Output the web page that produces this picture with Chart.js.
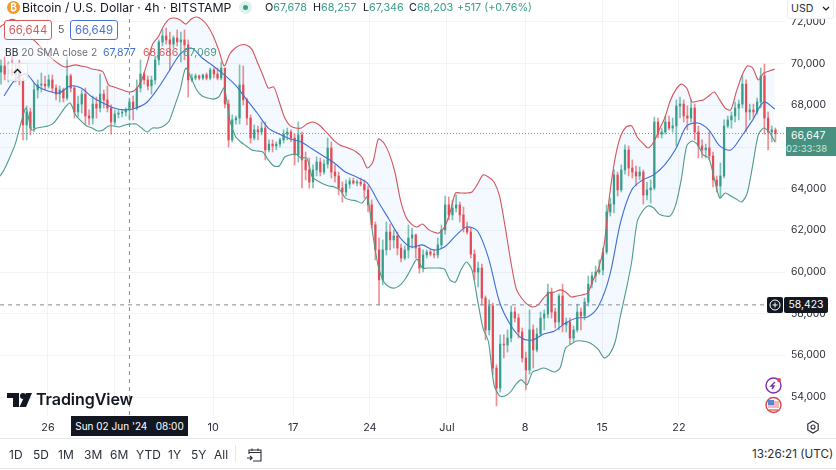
<!DOCTYPE html>
<html>
<head>
<meta charset="utf-8">
<title>Bitcoin / U.S. Dollar</title>
<script src="https://cdn.jsdelivr.net/npm/chart.js@4/dist/chart.umd.min.js"></script>
<style>
html, body { margin: 0; padding: 0; background: #fff; }
body { width: 836px; height: 470px; position: relative; overflow: hidden; font-family: Inter, "Noto Sans", sans-serif; color: #131722; }
#chart { position: absolute; left: 0; top: 0; filter: blur(0.35px); }
.abs { position: absolute; white-space: nowrap; }
.g { color: #3a9d8a; }
.tool { position: absolute; top: 447px; font-size: 12px; color: #2a2e39; }
</style>
</head>
<body>
<canvas id="chart" width="836" height="438"></canvas>

<!-- header -->
<div class="abs" style="left:7px;top:1px;width:13px;height:13px;border-radius:50%;background:#f09a2e;color:#fff;font-size:10px;font-weight:700;line-height:13px;text-align:center">₿</div>
<div class="abs" style="left:22px;top:-1px;font-size:12.3px;line-height:17px;background:rgba(255,255,255,.75)">Bitcoin / U.S. Dollar · 4h · BITSTAMP</div>
<div class="abs" style="left:239px;top:1px;width:13px;height:13px;border-radius:50%;background:#dff1ec"></div>
<div class="abs" style="left:243px;top:5px;width:5px;height:5px;border-radius:50%;background:#3a9d8a"></div>
<div class="abs" style="left:265px;top:0;font-size:10.8px;line-height:15px">O<span class="g">67,678</span></div>
<div class="abs" style="left:313px;top:0;font-size:10.8px;line-height:15px">H<span class="g">68,257</span></div>
<div class="abs" style="left:363px;top:0;font-size:10.8px;line-height:15px">L<span class="g">67,346</span></div>
<div class="abs" style="left:409px;top:0;font-size:10.8px;line-height:15px">C<span class="g">68,203</span></div>
<div class="abs g" style="left:457px;top:0;font-size:10.8px;line-height:15px">+517 (+0.76%)</div>

<div class="abs" style="left:4px;top:20px;width:46px;height:18px;border:1px solid #d9595c;border-radius:3px;background:rgba(255,255,255,.85);color:#d9595c;font-size:11.4px;line-height:18px;text-align:center">66,644</div>
<div class="abs" style="left:58px;top:22px;font-size:10.5px;line-height:15px;color:#555">5</div>
<div class="abs" style="left:70px;top:20px;width:46px;height:18px;border:1px solid #4a73d6;border-radius:3px;background:rgba(255,255,255,.85);color:#4a73d6;font-size:11.4px;line-height:18px;text-align:center">66,649</div>

<div class="abs" style="left:5px;top:45px;font-size:10.2px;line-height:15px;color:#6a6d78;background:rgba(255,255,255,.55)"><span style="color:#131722">BB</span> 20 SMA close 2</div>
<div class="abs" style="left:103px;top:45px;font-size:10.6px;line-height:15px;color:#3f6fd1">67,877</div>
<div class="abs" style="left:143px;top:45px;font-size:10.6px;line-height:15px;color:#d9595c">68,686</div>
<div class="abs" style="left:183px;top:45px;font-size:10.6px;line-height:15px;color:#4f9a88">67,069</div>
<div class="abs" style="left:7px;top:63px;width:19px;height:16px;border:1px solid #e4e5e8;border-radius:3px;background:rgba(255,255,255,.75)">
  <svg width="19" height="16"><path d="M6 9 L9.5 5.5 L13 9" fill="none" stroke="#131722" stroke-width="1.3"/></svg>
</div>

<!-- right side -->
<div class="abs" style="left:787px;top:-1px;width:45px;height:18px;background:#fff;border:1px solid #ececee;border-radius:3px;font-size:10.6px;line-height:17px;text-indent:3px;color:#2a2e39">USD
  <svg class="abs" style="left:34px;top:6px" width="8" height="6"><path d="M1 1 L4 4 L7 1" fill="none" stroke="#131722" stroke-width="1.2"/></svg>
</div>
<div class="abs" style="left:786px;top:127px;width:50px;height:27px;background:#46917f;color:#fff;font-size:10.4px;line-height:13px;text-indent:5px;padding-top:2px">66,647<br><span style="color:#cde5de;font-size:9.6px">02:33:38</span></div>
<div class="abs" style="left:767px;top:297px;width:16px;height:16px;background:#131722;border-radius:2px">
  <svg width="16" height="16"><circle cx="8" cy="8" r="5" fill="none" stroke="#fff" stroke-width="1"/><path d="M5.5 8 H10.5 M8 5.5 V10.5" stroke="#fff" stroke-width="1"/></svg>
</div>
<div class="abs" style="left:784px;top:297px;width:44px;height:16px;background:#131722;border-radius:2px;color:#fff;font-size:10.4px;line-height:16px;text-align:center">58,423</div>

<svg class="abs" style="left:764px;top:376px" width="20" height="40">
  <circle cx="9.5" cy="9.5" r="7.5" fill="#fff" stroke="#7b2fa8" stroke-width="1.4"/>
  <path d="M11 6 L7 10 L10 10 L8 13" fill="none" stroke="#7b2fa8" stroke-width="1.4"/>
  <circle cx="15" cy="4" r="2" fill="#e0454e"/>
  <circle cx="9.5" cy="29" r="7.5" fill="#fff" stroke="#d8454d" stroke-width="1.4"/>
  <path d="M4 25 H15 V32 H4 Z" fill="#f3b8bb"/>
  <path d="M4 24 H10 V29 H4 Z" fill="#5b86d8"/>
  <path d="M5 34 H14" stroke="#d8454d" stroke-width="1.2"/>
</svg>
<svg class="abs" style="left:806px;top:420px" width="14" height="14">
  <path d="M7 1 L12.2 4 V10 L7 13 L1.8 10 V4 Z" fill="none" stroke="#2a2e39" stroke-width="1.2"/>
  <circle cx="7" cy="7" r="2" fill="none" stroke="#2a2e39" stroke-width="1.1"/>
</svg>

<!-- crosshair time label -->
<div class="abs" style="left:71px;top:416px;width:117px;height:20px;background:#131722;color:#fff;font-size:10px;line-height:20px;text-align:center;word-spacing:0">Sun 02 Jun '24 &nbsp; 08:00</div>

<!-- logo -->
<svg class="abs" style="left:7px;top:392px" width="25" height="16">
  <path d="M0 1 H12 V15 H6 V6 H0 Z" fill="#131722"/>
  <circle cx="16" cy="4" r="3" fill="#131722"/>
  <path d="M19 1 H25 L19 15 H12.5 Z" fill="#131722"/>
</svg>
<div class="abs" style="left:36px;top:389px;font-size:16.1px;font-weight:600;line-height:21px;letter-spacing:-0.1px;color:#131722">TradingView</div>

<!-- bottom toolbar -->
<div class="abs" style="left:0;top:438px;width:836px;height:1px;background:#e6e8ec"></div>
<div class="abs" style="left:0;top:468px;width:836px;height:1px;background:#e6e8ec"></div>
<div class="tool" style="left:9px">1D</div>
<div class="tool" style="left:33px">5D</div>
<div class="tool" style="left:58px">1M</div>
<div class="tool" style="left:84px">3M</div>
<div class="tool" style="left:110px">6M</div>
<div class="tool" style="left:136px">YTD</div>
<div class="tool" style="left:168px">1Y</div>
<div class="tool" style="left:191px">5Y</div>
<div class="tool" style="left:214px">All</div>
<div class="abs" style="left:235px;top:445px;width:1px;height:17px;background:#e6e8ec"></div>
<svg class="abs" style="left:246px;top:446px" width="17" height="17">
  <path d="M3 8 V4 H15 V15 H7 M3 6.5 H15 M6 2.5 V5 M12 2.5 V5" fill="none" stroke="#2a2e39" stroke-width="1.1"/>
  <path d="M1 12 H6 M4 10 L6.2 12 L4 14" fill="none" stroke="#2a2e39" stroke-width="1.1"/>
</svg>
<div class="tool" style="left:752px;font-size:11.7px">13:26:21 (UTC)</div>

<script>
// x axis is the candle number, one candle every 8 hours
var tickIndex = [12.8, 30.8, 57.8, 79.6, 100.5, 121.5, 142.8, 163.8, 184.7];
var tickLabels = ["26", "", "10", "17", "24", "Jul", "8", "15", "22"];
var priceTicks = [54000, 56000, 58000, 60000, 62000, 64000, 66000, 68000, 70000, 72000];

var lastPrice = 66647;
var cursorPrice = 58423;
var cursorIndex = 35;
var firstOpen = 69600;

var closes = [
    69890, 69500, 69700, 69500, 69700, 69220, 67060, 67680, 66910, 68740,
    68980, 69020, 68930, 69220, 68830, 68540, 68740, 68350, 69410, 68830,
    67680, 68060, 68540, 67490, 67390, 68060, 67870, 68540, 68260, 67870,
    67200, 67580, 67630, 67680, 67780, 68160, 67870, 68830, 69500, 69220,
    68930, 69220, 70180, 71040, 71330, 71140, 70940, 71230, 71040, 71140,
    70900, 69220, 69310, 69410, 69310, 69460, 69310, 69700, 69500, 69310,
    69790, 68060, 66340, 67300, 67390, 68980, 68260, 67390, 66430, 66820,
    66720, 66910, 65860, 66140, 66050, 66140, 66340, 66620, 66720, 66430,
    65620, 66580, 65380, 64900, 64320, 64900, 65280, 64800, 65180, 65950,
    64800, 64610, 64030, 63840, 64220, 64370, 64270, 64320, 64220, 63940,
    63220, 62260, 61060, 59620, 61060, 61920, 61540, 61730, 61150, 60670,
    61060, 61630, 61780, 61150, 60190, 60820, 60960, 60860, 60820, 61300,
    62020, 63220, 62740, 63070, 63220, 62740, 62110, 61920, 60860, 60000,
    60190, 58750, 57220, 58370, 55390, 54430, 56540, 56500, 56830, 58080,
    57790, 57120, 55870, 55300, 57220, 56260, 57020, 57790, 57980, 59040,
    58080, 57600, 58850, 57460, 57600, 56830, 57220, 58080, 57890, 58560,
    59420, 59810, 60000, 60100, 60960, 62880, 63260, 64660, 63940, 64900,
    65860, 64990, 64800, 64610, 64800, 63700, 63940, 64030, 67200, 66620,
    66720, 67200, 66910, 67010, 67970, 68060, 67490, 67390, 67870, 66720,
    66050, 65860, 65950, 65570, 64420, 64130, 64610, 67010, 67300, 67490,
    67870, 68060, 69020, 67680, 67780, 67680, 68160, 69410, 67390, 66720,
    66820, 66647
];
var highs = [
    70180, 70320, 70080, 70370, 69980, 70180, 69310, 67970, 67870, 69070,
    69220, 69550, 69410, 69460, 69460, 68980, 68930, 68830, 70320, 69500,
    68930, 68450, 68740, 68830, 67780, 68450, 68400, 69500, 68740, 68930,
    68020, 67780, 67780, 67780, 67870, 68350, 68450, 69220, 70180, 69600,
    69410, 69410, 70370, 71140, 71620, 71710, 71520, 71330, 71620, 71520,
    71620, 71140, 69500, 69500, 69460, 69500, 69550, 69790, 69790, 69790,
    70080, 69500, 68260, 67540, 67490, 69940, 69890, 68350, 67540, 67060,
    67010, 67200, 67200, 66340, 66340, 66240, 66430, 66820, 66910, 66820,
    66620, 67200, 66720, 65760, 65470, 65140, 65520, 65470, 65380, 66430,
    66240, 65140, 64800, 64320, 64420, 64510, 64510, 64420, 64510, 64420,
    64130, 63460, 62400, 61630, 61540, 62400, 62300, 62020, 61920, 61340,
    61250, 62260, 62110, 61820, 61250, 61060, 61060, 61100, 61060, 61630,
    62260, 63650, 63600, 63460, 63700, 63360, 63120, 62400, 62110, 61060,
    60480, 60380, 58850, 58660, 58510, 55540, 56980, 56980, 57220, 58370,
    58320, 57980, 57310, 56160, 58180, 57460, 57310, 58080, 58180, 59420,
    59230, 58270, 58940, 59420, 57790, 57790, 57410, 58460, 58270, 58750,
    59810, 60000, 60290, 60580, 61150, 63220, 63550, 64900, 64800, 65140,
    66100, 66050, 65380, 65090, 65040, 64900, 64320, 64420, 67440, 67390,
    66910, 67490, 67490, 67390, 68260, 68400, 68260, 67970, 68260, 68060,
    67010, 66340, 66140, 66720, 65760, 64610, 65230, 67300, 67490, 67680,
    68160, 68260, 69410, 69220, 68060, 68060, 68350, 69790, 69980, 67680,
    67010, 66910
];
var lows = [
    69020, 69220, 69120, 69410, 69120, 68980, 66340, 66340, 66580, 66720,
    68350, 68640, 68740, 68830, 68640, 68260, 68160, 68160, 68260, 68640,
    67390, 67440, 67630, 67100, 67060, 67100, 67390, 67680, 67870, 67680,
    66620, 67060, 67390, 67440, 67490, 67300, 67300, 67780, 68640, 69020,
    68740, 68540, 69020, 69940, 70850, 70940, 69700, 70750, 70850, 70080,
    70180, 68400, 69120, 69220, 69220, 69220, 69220, 69220, 69310, 69220,
    69220, 67870, 66000, 66240, 67100, 67100, 68020, 67060, 66190, 66340,
    66340, 66580, 65380, 65760, 65760, 65860, 66000, 66190, 66340, 66240,
    65140, 65280, 64030, 64420, 64030, 64030, 64610, 64610, 64700, 64990,
    64510, 64320, 63700, 63360, 63650, 64030, 64220, 64130, 64130, 63550,
    62880, 62110, 60580, 58420, 59380, 60820, 61060, 61150, 60820, 60480,
    60580, 60670, 61150, 60670, 59950, 60000, 60670, 60770, 60670, 60670,
    61150, 61820, 62500, 62500, 62880, 62400, 61920, 61820, 60670, 59620,
    59280, 58420, 56740, 56980, 55060, 53570, 54240, 55870, 56160, 56640,
    57600, 56830, 55680, 54340, 55100, 55390, 56160, 56930, 57220, 57790,
    57790, 57310, 57220, 57120, 57120, 56540, 56640, 57120, 57220, 57700,
    58370, 59230, 59520, 59900, 59860, 60860, 62690, 62830, 63650, 63840,
    64700, 64610, 64510, 64130, 64420, 63260, 63460, 63310, 63940, 66430,
    66430, 66620, 66820, 66720, 66050, 67390, 67200, 66820, 67200, 66340,
    65470, 65470, 65470, 65380, 64080, 63840, 63550, 64510, 66910, 66910,
    67200, 67300, 67870, 66720, 67300, 67390, 67580, 67870, 66620, 65860,
    66240, 66240
];

// Bollinger bands, read every 12 hours
var bbUpper = [
    71710, 71900, 72100, 72100, 71900, 71570, 71230, 70990, 70700, 70420,
    70180, 69980, 69840, 69890, 69940, 69890, 69840, 69740, 69700, 69600,
    68980, 68880, 68780, 68690, 68640, 68780, 69220, 70030, 70940, 71280,
    71810, 72140, 72190, 72100, 71900, 72140, 72240, 72100, 71810, 71330,
    70660, 69890, 70460, 70750, 70900, 70900, 70700, 70080, 69460, 68830,
    68880, 68160, 67390, 67010, 66910, 66910, 67100, 67200, 67100, 66860,
    66580, 66290, 66100, 66000, 65900, 65760, 65520, 64990, 65280, 66380,
    66190, 65660, 64800, 63460, 62640, 62300, 62160, 62300, 62060, 61920,
    61870, 62160, 62830, 63790, 63790, 63790, 63840, 64220, 64660, 64560,
    64320, 63650, 62210, 60580, 59230, 58750, 58460, 58320, 58420, 58750,
    58990, 59040, 59140, 59040, 58800, 58850, 58900, 58990, 59620, 60190,
    61300, 63700, 65470, 66530, 66960, 67010, 66480, 66190, 65950, 66240,
    66820, 67390, 68210, 68740, 69020, 68830, 68160, 68210, 68260, 68450,
    68640, 68260, 67870, 67780, 68640, 69410, 69890, 69790, 69220, 69550,
    69650, 69740
];
var bbLower = [
    64510, 64900, 65470, 66100, 67060, 67870, 66820, 66910, 66960, 67010,
    67150, 67490, 67870, 68110, 67540, 67250, 67010, 66910, 66770, 66820,
    67010, 67010, 66960, 67060, 67100, 67100, 66910, 66720, 66910, 66910,
    67010, 67250, 67970, 68740, 69790, 69310, 68740, 68450, 68350, 68300,
    68400, 68830, 67300, 66530, 66240, 66050, 65860, 65810, 65760, 65380,
    65090, 65090, 65520, 65620, 65660, 65470, 65470, 64560, 64370, 64220,
    64130, 64080, 63940, 63550, 63460, 63410, 63310, 63600, 61780, 60240,
    59520, 59280, 59230, 59380, 59710, 60190, 60620, 60190, 60190, 60190,
    60190, 60140, 59620, 59520, 60100, 60480, 60100, 58660, 57310, 56640,
    54580, 54050, 54050, 54240, 54620, 54820, 54580, 55200, 55300, 55390,
    55300, 55200, 55390, 56350, 56540, 56690, 56690, 56640, 56500, 56260,
    55870, 56060, 56640, 57940, 59140, 60480, 62400, 62930, 63170, 63070,
    62780, 62690, 62690, 63220, 64420, 66050, 66290, 66100, 65620, 65470,
    64510, 63550, 63790, 63650, 63500, 63360, 63790, 65140, 66580, 66910,
    66720, 66240
];
// basis line, read once a day
var bbBasis = [
    68450, 69220, 69500, 68930, 68690, 68590, 68930, 68830, 68400, 68110,
    67870, 67780, 67870, 68160, 68830, 69650, 70460, 70750, 70270, 69890,
    69460, 68980, 68300, 67630, 66910, 66620, 66380, 66240, 65900, 65570,
    65230, 64800, 64560, 64270, 63360, 62500, 61630, 61200, 61300, 61060,
    61200, 61730, 62160, 61970, 60670, 58560, 57460, 56830, 56740, 57020,
    57170, 57550, 57790, 57840, 58370, 59810, 62400, 63940, 64420, 64660,
    65140, 65900, 67010, 67150, 66820, 66050, 65860, 66530, 67300, 68160,
    67820
];

var xMin = -0.27;
var xMax = 213.6;
var yMin = 53136;
var yMax = 73056;

// build the point lists for chart.js
var wickData = [], bodyData = [], candleColors = [], wickColors = [];
for (var i = 0; i < closes.length; i++) {
    var open = i == 0 ? firstOpen : closes[i - 1];
    var up = closes[i] >= open;
    wickData.push({ x: i, y: [lows[i], highs[i]] });
    bodyData.push({ x: i, y: [open, closes[i]] });
    candleColors.push(up ? "rgba(47,154,133,0.9)" : "rgba(226,67,76,0.9)");
    wickColors.push(up ? "rgba(47,154,133,0.6)" : "rgba(226,67,76,0.6)");
}
function bandPoints(values, start, step) {
    var pts = [];
    for (var i = 0; i < values.length; i++) {
        pts.push({ x: start + i * step, y: values[i] });
    }
    return pts;
}

var ctx = document.getElementById("chart").getContext("2d");
new Chart(ctx, {
    type: "bar",
    data: {
        datasets: [
            {
                type: "line", label: "Upper", data: bandPoints(bbUpper, -0.68, 1.5),
                borderColor: "#d2565a", borderWidth: 1.1, pointRadius: 0, tension: 0.25,
                fill: { target: 1 }, backgroundColor: "rgba(33,150,243,0.055)", order: 1
            },
            {
                type: "line", label: "Lower", data: bandPoints(bbLower, -0.68, 1.5),
                borderColor: "#4f9a88", borderWidth: 1.1, pointRadius: 0, tension: 0.25,
                fill: false, order: 1
            },
            {
                type: "line", label: "Basis", data: bandPoints(bbBasis, 0.82, 3),
                borderColor: "#3f6fd1", borderWidth: 1.1, pointRadius: 0, tension: 0.3,
                fill: false, order: 1
            },
            {
                type: "line", label: "Last", data: [{ x: xMin, y: lastPrice }, { x: xMax, y: lastPrice }],
                borderColor: "#5fa898", borderWidth: 1, borderDash: [1, 2], pointRadius: 0, fill: false, order: 3
            },
            {
                type: "line", label: "Cursor", data: [{ x: xMin, y: cursorPrice }, { x: xMax, y: cursorPrice }],
                borderColor: "#8a8d94", borderWidth: 1, borderDash: [4, 4], pointRadius: 0, fill: false, order: 0
            },
            {
                type: "line", label: "CursorV", data: [{ x: cursorIndex, y: yMin }, { x: cursorIndex, y: yMax }],
                borderColor: "#8a8d94", borderWidth: 1, borderDash: [4, 4], pointRadius: 0, fill: false, order: 0
            },
            { label: "Wicks", data: wickData, backgroundColor: wickColors, barThickness: 1, grouped: false, order: 2 },
            { label: "Bodies", data: bodyData, backgroundColor: candleColors, barThickness: 1.6, grouped: false, order: 2 }
        ]
    },
    options: {
        responsive: false,
        animation: false,
        layout: { padding: 0 },
        plugins: {
            legend: { display: false },
            tooltip: { enabled: false },
            filler: { drawTime: "beforeDatasetsDraw" }
        },
        scales: {
            x: {
                type: "linear",
                offset: false,
                min: xMin,
                max: xMax,
                grid: { color: "#f2f3f5", offset: false, drawTicks: false },
                border: { display: false },
                afterBuildTicks: function (scale) {
                    scale.ticks = tickIndex.map(function (v) { return { value: v }; });
                },
                afterFit: function (scale) {
                    scale.height = 23;
                    scale.paddingLeft = 0;
                    scale.paddingRight = 0;
                },
                ticks: {
                    autoSkip: false,
                    maxRotation: 0,
                    padding: 6,
                    color: "#2a2e39",
                    font: { family: "Inter", size: 10.8 },
                    callback: function (value) { return tickLabels[tickIndex.indexOf(value)]; }
                }
            },
            y: {
                position: "right",
                min: yMin,
                max: yMax,
                grid: { color: "#f2f3f5", drawTicks: false },
                border: { display: false },
                afterBuildTicks: function (scale) {
                    scale.ticks = priceTicks.map(function (v) { return { value: v }; });
                },
                afterFit: function (scale) {
                    scale.width = 51;
                    scale.paddingTop = 0;
                    scale.paddingBottom = 0;
                },
                ticks: {
                    padding: 6,
                    color: "#2a2e39",
                    font: { family: "Inter", size: 10.4 },
                    callback: function (value) { return value.toLocaleString("en-US"); }
                }
            }
        }
    }
});
</script>
</body>
</html>
